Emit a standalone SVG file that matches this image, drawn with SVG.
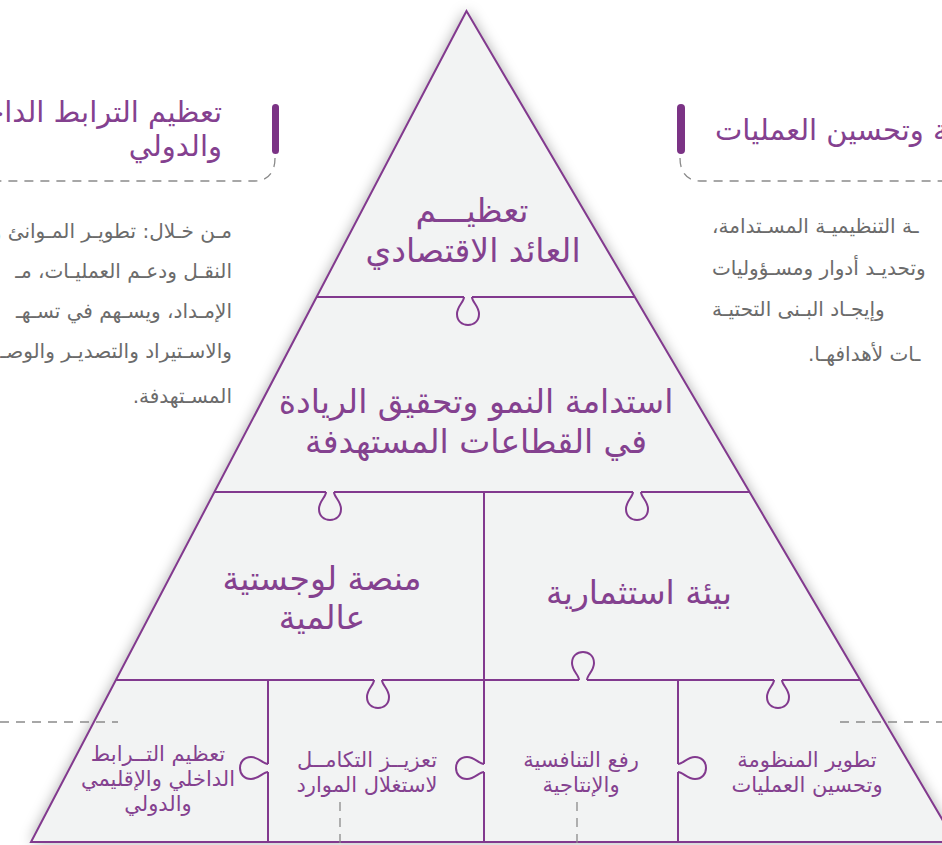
<svg xmlns="http://www.w3.org/2000/svg" xmlns:xlink="http://www.w3.org/1999/xlink" width="942" height="845" viewBox="0 0 942 845">
<style>
.ln{fill:none;stroke:#82398e;stroke-width:2;stroke-linecap:butt}
.kn{fill:none;stroke:#82398e;stroke-width:2}
.big{font-family:"DejaVu Sans",sans-serif;font-size:33px;fill:#84418f;text-anchor:middle}
.sm{font-family:"DejaVu Sans",sans-serif;font-size:21px;fill:#84418f;text-anchor:middle}
.ttl{font-family:"DejaVu Sans",sans-serif;font-size:29px;fill:#84418f}
.par{font-family:"DejaVu Sans",sans-serif;font-size:20px;fill:#6b6b6b}
.dash{fill:none;stroke:#8a8a8a;stroke-width:1.3;stroke-dasharray:9 7}
.bar{fill:#7b3385}
</style>
<defs>
<filter id="sh" x="-10%" y="-10%" width="120%" height="120%">
<feDropShadow dx="0" dy="0" stdDeviation="7" flood-color="#000" flood-opacity="0.35"/>
</filter>
<path id="knob" d="M -4 0 C -4 5 -11 9 -11 17 C -11 24 -6 28 0 28 C 6 28 11 24 11 17 C 11 9 4 5 4 0"/>
</defs>
<rect width="942" height="845" fill="#ffffff"/>

<g id="pyramid">
<polygon points="466.5,11 31,842 955.5,842" fill="#f2f3f3" filter="url(#sh)"/>
<polygon points="466.5,11 31,842 955.5,842" class="ln"/>
<path class="ln" d="M316.4 297 H464 M472 297 H634.5"/>
<path class="ln" d="M214.4 492 H326 M334 492 H633 M641 492 H749.3"/>
<path class="ln" d="M116.1 680 H374 M382 680 H579 M587 680 H774 M782 680 H860"/>
<path class="ln" d="M268 680 V764 M268 772 V842"/>
<path class="ln" d="M484 492 V764 M484 772 V842"/>
<path class="ln" d="M678 680 V764 M678 772 V842"/>
<use xlink:href="#knob" class="kn" transform="translate(468,297)"/>
<use xlink:href="#knob" class="kn" transform="translate(330,492)"/>
<use xlink:href="#knob" class="kn" transform="translate(637,492)"/>
<use xlink:href="#knob" class="kn" transform="translate(583,680) rotate(180)"/>
<use xlink:href="#knob" class="kn" transform="translate(378,680)"/>
<use xlink:href="#knob" class="kn" transform="translate(778,680)"/>
<use xlink:href="#knob" class="kn" transform="translate(268,768) rotate(90)"/>
<use xlink:href="#knob" class="kn" transform="translate(484,768) rotate(90)"/>
<use xlink:href="#knob" class="kn" transform="translate(678,768) rotate(-90)"/>
</g>

<g id="tier-top">
<text class="big" direction="rtl" x="472" y="222">تعظيـــم</text>
<text class="big" direction="rtl" x="473" y="262">العائد الاقتصادي</text>
</g>
<g id="tier-growth">
<text class="big" direction="rtl" x="476" y="413">استدامة النمو وتحقيق الريادة</text>
<text class="big" direction="rtl" x="476" y="453">في القطاعات المستهدفة</text>
</g>
<g id="tier-logistics">
<text class="big" direction="rtl" x="322" y="590">منصة لوجستية</text>
<text class="big" direction="rtl" x="322" y="629">عالمية</text>
</g>
<g id="tier-investment">
<text class="big" direction="rtl" x="639" y="604">بيئة استثمارية</text>
</g>

<g id="base-connectivity">
<text class="sm" direction="rtl" x="158" y="761">تعظيم التــرابط</text>
<text class="sm" direction="rtl" x="158" y="786">الداخلي والإقليمي</text>
<text class="sm" direction="rtl" x="158" y="811">والدولي</text>
</g>
<g id="base-integration">
<text class="sm" direction="rtl" x="367" y="767">تعزيــز التكامــل</text>
<text class="sm" direction="rtl" x="367" y="792">لاستغلال الموارد</text>
</g>
<g id="base-competitiveness">
<text class="sm" direction="rtl" x="581" y="767">رفع التنافسية</text>
<text class="sm" direction="rtl" x="581" y="792">والإنتاجية</text>
</g>
<g id="base-operations">
<text class="sm" direction="rtl" x="807" y="767">تطوير المنظومة</text>
<text class="sm" direction="rtl" x="807" y="792">وتحسين العمليات</text>
</g>

<g id="callout-left">
<rect class="bar" x="272" y="104" width="7" height="50" rx="3.5"/>
<text class="ttl" direction="rtl" text-anchor="start" x="222" y="122">تعظيم الترابط الداخلي والإقليمي</text>
<text class="ttl" direction="rtl" text-anchor="start" x="222" y="156">والدولي</text>
<g class="par" direction="rtl" text-anchor="start">
<text direction="rtl" x="232" y="238">مـن خـلال: تطويـر المـوانئ و</text>
<text direction="rtl" x="232" y="278">النقـل ودعـم العمليـات، مـ</text>
<text direction="rtl" x="232" y="318">الإمـداد، ويسـهم في تسـهـ</text>
<text direction="rtl" x="232" y="358">والاسـتيراد والتصديـر والوصـ</text>
<text direction="rtl" x="232" y="403">المسـتهدفة.</text>
</g>
</g>

<g id="callout-right">
<rect class="bar" x="677" y="104" width="8" height="50" rx="4"/>
<text class="ttl" direction="rtl" text-anchor="end" x="715" y="140">تطوير المنظومة وتحسين العمليات</text>
<g class="par" direction="rtl" text-anchor="end">
<text direction="rtl" x="712" y="233">ـة التنظيميـة المسـتدامة،</text>
<text direction="rtl" x="712" y="275">وتحديـد أدوار ومسـؤوليات</text>
<text direction="rtl" x="712" y="316">وإيجـاد البـنى التحتيـة</text>
<text direction="rtl" x="808" y="361">ـات لأهدافهـا.</text>
</g>
</g>

<g id="connectors">
<path class="dash" d="M275 158 C275 172 268 181 255 181 H0"/>
<path class="dash" d="M680 158 C680 172 687 181 700 181 H942"/>
<path class="dash" d="M0 722 H118"/>
<path class="dash" d="M840 722 H942"/>
<path class="dash" d="M340 802 V845"/>
<path class="dash" d="M577 802 V845"/>
</g>
</svg>
